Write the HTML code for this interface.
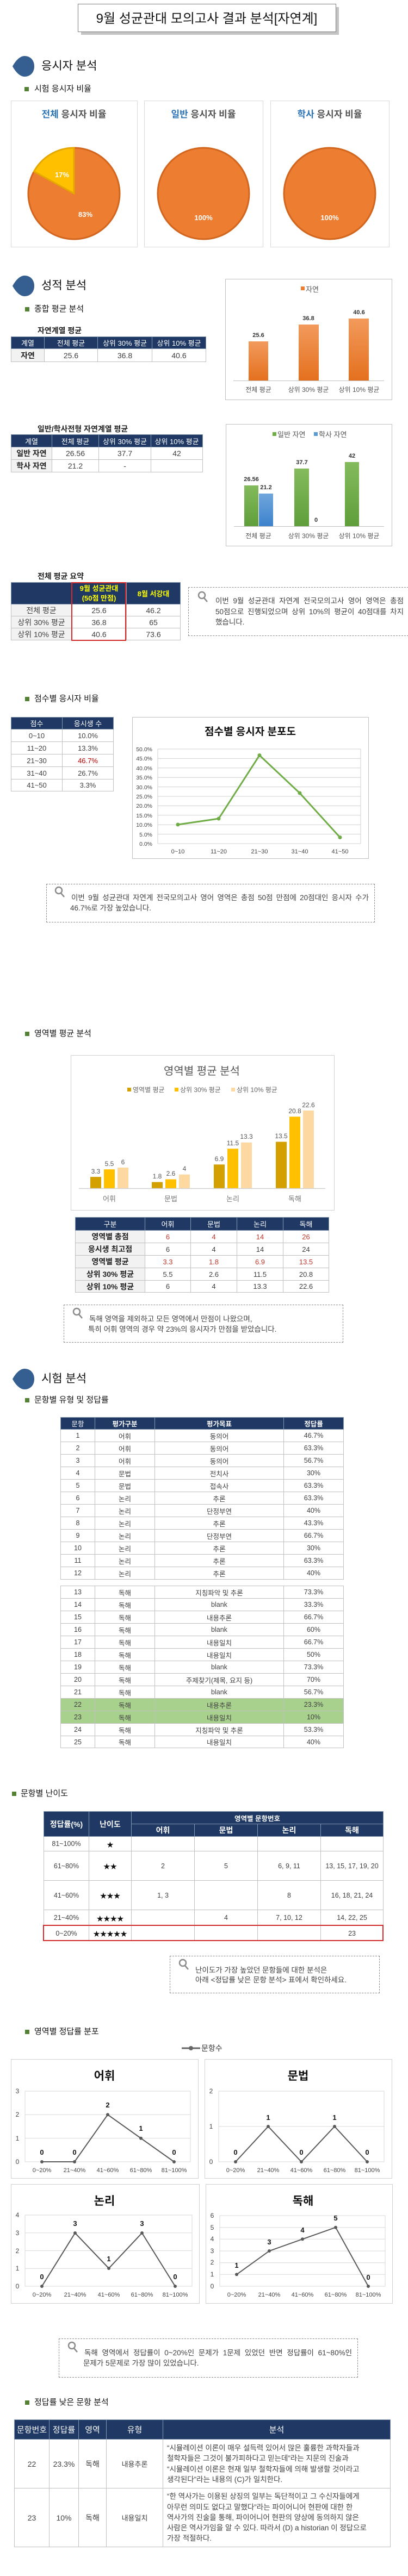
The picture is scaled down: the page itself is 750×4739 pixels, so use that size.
<!DOCTYPE html>
<html><head><meta charset="utf-8">
<style>
*{box-sizing:border-box}
body{margin:0;background:#fff;font-family:"Liberation Sans","Noto Sans CJK KR",sans-serif;color:#222}
#pg{position:relative;width:750px;height:4739px;overflow:hidden;background:#fff}
.a{position:absolute}
.h1{position:absolute;font-size:21px;line-height:30px;height:30px;color:#111;white-space:nowrap}
.h2{position:absolute;font-size:15px;line-height:20px;height:20px;color:#111;white-space:nowrap}
.sq{position:absolute;width:8px;height:8px;background:#548235}
.cap{position:absolute;font-size:14px;font-weight:bold;line-height:20px;color:#222;white-space:nowrap}
.t{position:absolute;border-collapse:collapse;table-layout:fixed;font-size:13px;color:#404040;text-align:center}
.t td,.t th{border:1px solid #c0c0c0;padding:0;overflow:hidden;white-space:nowrap}
.t th{background:#1f3864;color:#fff;font-weight:normal;border-color:#8497b0}
.g{background:#f2f2f2}
.b{font-weight:bold;color:#222}
.r{color:#c0392b}
.note{position:absolute;border:1.5px dashed #8a8a8a}
.nl{position:absolute;font-size:13.5px;line-height:19px;color:#404040;white-space:nowrap}
.j{text-align:justify;text-align-last:justify}
</style></head><body><div id="pg">

<svg class="a" style="left:0;top:0" width="750" height="4739" viewBox="0 0 750 4739" font-family="Liberation Sans, Noto Sans CJK KR, sans-serif">
<defs>
<linearGradient id="og" x1="0" y1="0" x2="0" y2="1"><stop offset="0" stop-color="#f29a5c"/><stop offset="1" stop-color="#e4701e"/></linearGradient>
<linearGradient id="gg" x1="0" y1="0" x2="0" y2="1"><stop offset="0" stop-color="#84bb5c"/><stop offset="1" stop-color="#5f9e3a"/></linearGradient>
<linearGradient id="bg" x1="0" y1="0" x2="0" y2="1"><stop offset="0" stop-color="#70a6dc"/><stop offset="1" stop-color="#3c82cc"/></linearGradient>
<g id="blob"><path d="M0,19 C6,8 14,0 22,0 C33,0 40,8 40,19 C40,30 33,38 22,38 C14,38 6,30 0,19 Z" fill="#355f91"/></g>
</defs>

<!-- title -->
<rect x="149" y="13" width="474" height="51" fill="#c4c4c4"/>
<rect x="143.5" y="7.5" width="474" height="51" fill="#fff" stroke="#7f7f7f"/>
<text x="380" y="42" font-size="24" text-anchor="middle" fill="#111">9월 성균관대 모의고사 결과 분석[자연계]</text>

<use href="#blob" x="23" y="103"/>
<use href="#blob" x="23" y="507"/>
<use href="#blob" x="23" y="2518"/>

<!-- pie boxes -->
<rect x="20.5" y="185.5" width="232" height="269" fill="#fff" stroke="#d9d9d9"/>
<rect x="265.5" y="185.5" width="218" height="269" fill="#fff" stroke="#d9d9d9"/>
<rect x="497.5" y="185.5" width="218" height="269" fill="#fff" stroke="#d9d9d9"/>
<g font-size="17" font-weight="bold" text-anchor="middle">
<text x="136" y="216"><tspan fill="#2e75b6">전체</tspan><tspan fill="#555"> 응시자 비율</tspan></text>
<text x="374" y="216"><tspan fill="#2e75b6">일반</tspan><tspan fill="#555"> 응시자 비율</tspan></text>
<text x="606" y="216"><tspan fill="#2e75b6">학사</tspan><tspan fill="#555"> 응시자 비율</tspan></text>
</g>
<g font-size="12" fill="#666">
<rect x="99" y="348" width="7" height="7" fill="#ed7d31"/><text x="108" y="355">일반</text>
<rect x="143" y="348" width="7" height="7" fill="#ffc000"/><text x="152" y="355">학사</text>
<rect x="358" y="348" width="7" height="7" fill="#ed7d31"/><text x="367" y="355">자연</text>
<rect x="590" y="348" width="7" height="7" fill="#ed7d31"/><text x="599" y="355">자연</text>
</g>
<path d="M136,356 L136,272 A84,84 0 1,1 62.4,315.5 Z" fill="#ed7d31" stroke="#d2661e" stroke-width="3"/>
<path d="M136,356 L136,272 A84,84 0 0,0 62.4,315.5 Z" fill="#ffc000" stroke="#e5a800" stroke-width="3"/>
<circle cx="374" cy="356" r="84" fill="#ed7d31" stroke="#d2661e" stroke-width="3"/>
<circle cx="606" cy="356" r="84" fill="#ed7d31" stroke="#d2661e" stroke-width="3"/>
<g font-size="13" font-weight="bold" fill="#fff" text-anchor="middle">
<text x="114" y="326">17%</text><text x="157" y="399">83%</text>
<text x="374" y="405">100%</text><text x="606" y="405">100%</text>
</g>

<!-- chart 1 -->
<rect x="414.5" y="513.5" width="306" height="222" fill="#fff" stroke="#bfbfbf"/>
<rect x="553" y="527" width="7" height="7" fill="#ed7d31"/><text x="562" y="537" font-size="13" fill="#555">자연</text>
<rect x="457" y="628" width="36" height="72" fill="url(#og)"/>
<rect x="549" y="597" width="37" height="103" fill="url(#og)"/>
<rect x="641" y="586" width="37" height="114" fill="url(#og)"/>
<line x1="429" y1="700.5" x2="706" y2="700.5" stroke="#bfbfbf"/>
<g font-size="11" font-weight="bold" fill="#333" text-anchor="middle">
<text x="475" y="620">25.6</text><text x="567" y="589">36.8</text><text x="660" y="578">40.6</text>
</g>
<g font-size="12" fill="#555" text-anchor="middle">
<text x="475" y="721">전체 평균</text><text x="567" y="721">상위 30% 평균</text><text x="660" y="721">상위 10% 평균</text>
</g>

<!-- chart 2 -->
<rect x="415.5" y="780.5" width="305" height="224" fill="#fff" stroke="#bfbfbf"/>
<g font-size="13" fill="#555">
<rect x="501" y="795" width="7" height="7" fill="#70ad47"/><text x="510" y="804">일반 자연</text>
<rect x="577" y="795" width="7" height="7" fill="#5b9bd5"/><text x="586" y="804">학사 자연</text>
</g>
<rect x="449" y="893" width="26" height="75" fill="url(#gg)"/>
<rect x="476" y="908" width="26" height="60" fill="url(#bg)"/>
<rect x="541" y="862" width="27" height="106" fill="url(#gg)"/>
<rect x="634" y="850" width="26" height="118" fill="url(#gg)"/>
<line x1="430" y1="968.5" x2="706" y2="968.5" stroke="#bfbfbf"/>
<g font-size="11" font-weight="bold" fill="#333" text-anchor="middle">
<text x="462" y="885">26.56</text><text x="489" y="900">21.2</text><text x="555" y="854">37.7</text><text x="581" y="960">0</text><text x="647" y="842">42</text>
</g>
<g font-size="12" fill="#555" text-anchor="middle">
<text x="475" y="990">전체 평균</text><text x="567" y="990">상위 30% 평균</text><text x="660" y="990">상위 10% 평균</text>
</g>

<!-- score distribution chart -->
<rect x="243.5" y="1319.5" width="434" height="260" fill="#fff" stroke="#bfbfbf"/>
<text x="460" y="1352" font-size="19" font-weight="bold" text-anchor="middle" fill="#111">점수별 응시자 분포도</text>
<g stroke="#d0d0d0">
<line x1="290" y1="1378" x2="663" y2="1378"/><line x1="290" y1="1395.4" x2="663" y2="1395.4"/><line x1="290" y1="1412.8" x2="663" y2="1412.8"/><line x1="290" y1="1430.2" x2="663" y2="1430.2"/><line x1="290" y1="1447.6" x2="663" y2="1447.6"/><line x1="290" y1="1465" x2="663" y2="1465"/><line x1="290" y1="1482.4" x2="663" y2="1482.4"/><line x1="290" y1="1499.8" x2="663" y2="1499.8"/><line x1="290" y1="1517.2" x2="663" y2="1517.2"/><line x1="290" y1="1534.6" x2="663" y2="1534.6"/><line x1="290" y1="1552" x2="663" y2="1552"/>
<line x1="290" y1="1378" x2="290" y2="1552"/><line x1="663" y1="1378" x2="663" y2="1552"/>
</g>
<g font-size="10.5" fill="#444" text-anchor="end">
<text x="280" y="1382">50.0%</text><text x="280" y="1399">45.0%</text><text x="280" y="1417">40.0%</text><text x="280" y="1434">35.0%</text><text x="280" y="1452">30.0%</text><text x="280" y="1469">25.0%</text><text x="280" y="1486">20.0%</text><text x="280" y="1504">15.0%</text><text x="280" y="1521">10.0%</text><text x="280" y="1539">5.0%</text><text x="280" y="1556">0.0%</text>
</g>
<polyline points="327,1517 402,1506 477,1389.5 551,1459 625,1540.5" fill="none" stroke="#70ad47" stroke-width="3"/>
<g fill="#70ad47"><circle cx="327" cy="1517" r="3.5"/><circle cx="402" cy="1506" r="3.5"/><circle cx="477" cy="1389.5" r="3.5"/><circle cx="551" cy="1459" r="3.5"/><circle cx="625" cy="1540.5" r="3.5"/></g>
<g font-size="11" fill="#444" text-anchor="middle">
<text x="327" y="1570">0~10</text><text x="402" y="1570">11~20</text><text x="477" y="1570">21~30</text><text x="551" y="1570">31~40</text><text x="625" y="1570">41~50</text>
</g>

<!-- area avg chart -->
<rect x="130.5" y="1941.5" width="484" height="285" fill="#fff" stroke="#d0d0d0"/>
<text x="371" y="1977" font-size="20" text-anchor="middle" fill="#555">영역별 평균 분석</text>
<g font-size="12" fill="#666">
<rect x="234" y="2001" width="7" height="7" fill="#d4a000"/><text x="244" y="2009">영역별 평균</text>
<rect x="321" y="2001" width="7" height="7" fill="#ffc000"/><text x="331" y="2009">상위 30% 평균</text>
<rect x="425" y="2001" width="7" height="7" fill="#fdd8a0"/><text x="435" y="2009">상위 10% 평균</text>
</g>
<g>
<rect x="166" y="2165.1" width="20" height="20.9" fill="#d4a000"/><rect x="191" y="2151.2" width="20" height="34.8" fill="#ffc000"/><rect x="216" y="2148" width="20" height="38" fill="#fdd8a0"/>
<rect x="279" y="2174.6" width="20" height="11.4" fill="#d4a000"/><rect x="304" y="2169.5" width="20" height="16.5" fill="#ffc000"/><rect x="329" y="2160.7" width="20" height="25.3" fill="#fdd8a0"/>
<rect x="393" y="2142.3" width="20" height="43.7" fill="#d4a000"/><rect x="418" y="2113.2" width="20" height="72.8" fill="#ffc000"/><rect x="443" y="2101.8" width="20" height="84.2" fill="#fdd8a0"/>
<rect x="507" y="2100.5" width="20" height="85.5" fill="#d4a000"/><rect x="532" y="2054.3" width="20" height="131.7" fill="#ffc000"/><rect x="557" y="2043" width="20" height="143" fill="#fdd8a0"/>
</g>
<line x1="145" y1="2186.5" x2="598" y2="2186.5" stroke="#d0d0d0" stroke-width="1.5"/>
<g font-size="12" fill="#555" text-anchor="middle">
<text x="176" y="2159">3.3</text><text x="201" y="2145">5.5</text><text x="226" y="2142">6</text>
<text x="289" y="2168">1.8</text><text x="314" y="2163">2.6</text><text x="339" y="2154">4</text>
<text x="403" y="2136">6.9</text><text x="428" y="2107">11.5</text><text x="453" y="2095">13.3</text>
<text x="517" y="2094">13.5</text><text x="542" y="2048">20.8</text><text x="567" y="2037">22.6</text>
</g>
<g font-size="13" fill="#777" text-anchor="middle">
<text x="201" y="2210">어휘</text><text x="314" y="2210">문법</text><text x="428" y="2210">논리</text><text x="542" y="2210">독해</text>
</g>

<!-- small charts legend -->
<line x1="334" y1="3768" x2="368" y2="3768" stroke="#666" stroke-width="3"/><circle cx="351" cy="3768" r="4" fill="#666"/>
<text x="370" y="3773" font-size="14" fill="#333">문항수</text>

<g stroke="#d0d0d0" fill="#fff">
<rect x="20.5" y="3788.5" width="344" height="219"/><rect x="376.5" y="3788.5" width="344" height="219"/>
<rect x="20.5" y="4018.5" width="346" height="219"/><rect x="378.5" y="4018.5" width="343" height="219"/>
</g>
<g font-size="21" font-weight="bold" text-anchor="middle" fill="#111">
<text x="192" y="3826">어휘</text><text x="548" y="3826">문법</text><text x="192" y="4056">논리</text><text x="557" y="4056">독해</text>
</g>
<g stroke="#d9d9d9" fill="none">
<rect x="46" y="3847" width="304" height="130"/><line x1="46" y1="3890.3" x2="350" y2="3890.3"/><line x1="46" y1="3933.7" x2="350" y2="3933.7"/>
<rect x="402" y="3847" width="304" height="130"/><line x1="402" y1="3912" x2="706" y2="3912"/>
<rect x="46" y="4075" width="307" height="131"/><line x1="46" y1="4107.75" x2="353" y2="4107.75"/><line x1="46" y1="4140.5" x2="353" y2="4140.5"/><line x1="46" y1="4173.25" x2="353" y2="4173.25"/>
<rect x="404" y="4076" width="304" height="130"/><line x1="404" y1="4097.7" x2="708" y2="4097.7"/><line x1="404" y1="4119.3" x2="708" y2="4119.3"/><line x1="404" y1="4141" x2="708" y2="4141"/><line x1="404" y1="4162.7" x2="708" y2="4162.7"/><line x1="404" y1="4184.3" x2="708" y2="4184.3"/>
</g>
<g font-size="12" fill="#444" text-anchor="middle">
<text x="32" y="3981">0</text><text x="32" y="3938">1</text><text x="32" y="3894">2</text><text x="32" y="3851">3</text>
<text x="388" y="3981">0</text><text x="388" y="3916">1</text><text x="388" y="3851">2</text>
<text x="32" y="4210">0</text><text x="32" y="4177">1</text><text x="32" y="4145">2</text><text x="32" y="4112">3</text><text x="32" y="4079">4</text>
<text x="390" y="4210">0</text><text x="390" y="4188">1</text><text x="390" y="4166">2</text><text x="390" y="4145">3</text><text x="390" y="4123">4</text><text x="390" y="4102">5</text><text x="390" y="4080">6</text>
</g>
<g font-size="11" fill="#444" text-anchor="middle">
<text x="77" y="3996">0~20%</text><text x="137" y="3996">21~40%</text><text x="198" y="3996">41~60%</text><text x="259" y="3996">61~80%</text><text x="320" y="3996">81~100%</text>
<text x="433" y="3996">0~20%</text><text x="493" y="3996">21~40%</text><text x="554" y="3996">41~60%</text><text x="615" y="3996">61~80%</text><text x="675" y="3996">81~100%</text>
<text x="77" y="4225">0~20%</text><text x="138" y="4225">21~40%</text><text x="200" y="4225">41~60%</text><text x="261" y="4225">61~80%</text><text x="322" y="4225">81~100%</text>
<text x="435" y="4225">0~20%</text><text x="495" y="4225">21~40%</text><text x="556" y="4225">41~60%</text><text x="617" y="4225">61~80%</text><text x="677" y="4225">81~100%</text>
</g>
<g fill="none" stroke="#595959" stroke-width="2">
<polyline points="77,3977 137,3977 198,3890.3 259,3933.7 320,3977"/>
<polyline points="433,3977 493,3912 554,3977 615,3912 675,3977"/>
<polyline points="77,4206 138,4108 200,4173 261,4108 322,4206"/>
<polyline points="435,4184.3 495,4141 556,4119.3 617,4097.7 677,4206"/>
</g>
<g fill="#595959">
<circle cx="77" cy="3977" r="3"/><circle cx="137" cy="3977" r="3"/><circle cx="198" cy="3890.3" r="3"/><circle cx="259" cy="3933.7" r="3"/><circle cx="320" cy="3977" r="3"/>
<circle cx="433" cy="3977" r="3"/><circle cx="493" cy="3912" r="3"/><circle cx="554" cy="3977" r="3"/><circle cx="615" cy="3912" r="3"/><circle cx="675" cy="3977" r="3"/>
<circle cx="77" cy="4206" r="3"/><circle cx="138" cy="4108" r="3"/><circle cx="200" cy="4173" r="3"/><circle cx="261" cy="4108" r="3"/><circle cx="322" cy="4206" r="3"/>
<circle cx="435" cy="4184.3" r="3"/><circle cx="495" cy="4141" r="3"/><circle cx="556" cy="4119.3" r="3"/><circle cx="617" cy="4097.7" r="3"/><circle cx="677" cy="4206" r="3"/>
</g>
<g font-size="13" font-weight="bold" fill="#111" text-anchor="middle">
<text x="77" y="3964">0</text><text x="137" y="3964">0</text><text x="198" y="3877">2</text><text x="259" y="3920">1</text><text x="320" y="3964">0</text>
<text x="433" y="3964">0</text><text x="493" y="3900">1</text><text x="554" y="3964">0</text><text x="615" y="3900">1</text><text x="675" y="3964">0</text>
<text x="77" y="4193">0</text><text x="138" y="4095">3</text><text x="200" y="4160">1</text><text x="261" y="4095">3</text><text x="322" y="4193">0</text>
<text x="435" y="4172">1</text><text x="495" y="4129">3</text><text x="556" y="4107">4</text><text x="617" y="4085">5</text><text x="677" y="4194">0</text>
</g>

<!-- magnifiers -->
<g fill="none" stroke="#8a8a8a" stroke-width="2.5">
<circle cx="371" cy="1095" r="6"/><line x1="375" y1="1100" x2="381" y2="1107"/>
<circle cx="108" cy="1638" r="6"/><line x1="112" y1="1643" x2="118" y2="1650"/>
<circle cx="141" cy="2413" r="6"/><line x1="145" y1="2418" x2="151" y2="2425"/>
<circle cx="336" cy="3611" r="6"/><line x1="340" y1="3616" x2="346" y2="3623"/>
<circle cx="132" cy="4315" r="6"/><line x1="136" y1="4320" x2="142" y2="4327"/>
</g>
</svg>

<!-- headers -->
<div class="h1" style="left:76px;top:107px">응시자 분석</div>
<div class="sq" style="left:45px;top:160px"></div><div class="h2" style="left:63px;top:154px">시험 응시자 비율</div>

<div class="h1" style="left:76px;top:511px">성적 분석</div>
<div class="sq" style="left:46px;top:565px"></div><div class="h2" style="left:63px;top:559px">종합 평균 분석</div>

<div class="cap" style="left:69px;top:598px">자연계열 평균</div>
<table class="t" style="left:20px;top:619px;width:358px">
<colgroup><col style="width:61px"><col style="width:98px"><col style="width:100px"><col style="width:99px"></colgroup>
<tr style="height:22px"><th>계열</th><th>전체 평균</th><th>상위 30% 평균</th><th>상위 10% 평균</th></tr>
<tr style="height:24px;font-size:14px"><td class="g b">자연</td><td>25.6</td><td>36.8</td><td>40.6</td></tr>
</table>

<div class="cap" style="left:69px;top:779px">일반/학사전형 자연계열 평균</div>
<table class="t" style="left:20px;top:799px;width:352px">
<colgroup><col style="width:75px"><col style="width:86px"><col style="width:96px"><col style="width:95px"></colgroup>
<tr style="height:23px"><th>계열</th><th>전체 평균</th><th>상위 30% 평균</th><th>상위 10% 평균</th></tr>
<tr style="height:23px;font-size:14px"><td class="g b">일반 자연</td><td>26.56</td><td>37.7</td><td>42</td></tr>
<tr style="height:23px;font-size:14px"><td class="g b">학사 자연</td><td>21.2</td><td>-</td><td></td></tr>
</table>

<div class="cap" style="left:69px;top:1050px">전체 평균 요약</div>
<table class="t" style="left:20px;top:1071px;width:311px">
<colgroup><col style="width:111px"><col style="width:101px"><col style="width:99px"></colgroup>
<tr style="height:40px"><th></th><th style="color:#ffff00;font-weight:bold;line-height:18px">9월 성균관대<br>(50점 만점)</th><th style="color:#ffff00;font-weight:bold">8월 서강대</th></tr>
<tr style="height:22px;font-size:14px"><td class="g">전체 평균</td><td>25.6</td><td>46.2</td></tr>
<tr style="height:22px;font-size:14px"><td class="g">상위 30% 평균</td><td>36.8</td><td>65</td></tr>
<tr style="height:22px;font-size:14px"><td class="g">상위 10% 평균</td><td>40.6</td><td>73.6</td></tr>
</table>
<div class="a" style="left:131px;top:1071px;width:101px;height:108px;border:2px solid #d42a2a"></div>

<div class="note" style="left:346px;top:1080px;width:410px;height:90px"></div>
<div class="nl j" style="left:396px;top:1096px;width:346px">이번 9월 성균관대 자연계 전국모의고사 영어 영역은 총점</div>
<div class="nl j" style="left:396px;top:1116px;width:346px">50점으로 진행되었으며 상위 10%의 평균이 40점대를 차지</div>
<div class="nl" style="left:396px;top:1135px">했습니다.</div>

<div class="sq" style="left:46px;top:1282px"></div><div class="h2" style="left:63px;top:1276px">점수별 응시자 비율</div>
<table class="t" style="left:20px;top:1319px;width:188px">
<colgroup><col style="width:94px"><col style="width:94px"></colgroup>
<tr style="height:22px"><th>점수</th><th>응시생 수</th></tr>
<tr style="height:23px"><td>0~10</td><td>10.0%</td></tr>
<tr style="height:23px"><td>11~20</td><td>13.3%</td></tr>
<tr style="height:23px"><td>21~30</td><td style="color:#c00000">46.7%</td></tr>
<tr style="height:23px"><td>31~40</td><td>26.7%</td></tr>
<tr style="height:22px"><td>41~50</td><td>3.3%</td></tr>
</table>

<div class="note" style="left:85px;top:1626px;width:604px;height:71px"></div>
<div class="nl j" style="left:131px;top:1642px;width:547px">이번 9월 성균관대 자연계 전국모의고사 영어 영역은 총점 50점 만점에 20점대인 응시자 수가</div>
<div class="nl" style="left:129px;top:1661px">46.7%로 가장 높았습니다.</div>

<div class="sq" style="left:46px;top:1898px"></div><div class="h2" style="left:63px;top:1892px">영역별 평균 분석</div>
<table class="t" style="left:138px;top:2239px;width:466px;font-size:13px">
<colgroup><col style="width:128px"><col style="width:84px"><col style="width:85px"><col style="width:85px"><col style="width:84px"></colgroup>
<tr style="height:24px"><th>구분</th><th>어휘</th><th>문법</th><th>논리</th><th>독해</th></tr>
<tr style="height:23px"><td class="g b" style="font-size:14px">영역별 총점</td><td class="r">6</td><td class="r">4</td><td class="r">14</td><td class="r">26</td></tr>
<tr style="height:23px"><td class="g b" style="font-size:14px">응시생 최고점</td><td>6</td><td>4</td><td>14</td><td>24</td></tr>
<tr style="height:23px"><td class="g b" style="font-size:14px">영역별 평균</td><td class="r">3.3</td><td class="r">1.8</td><td class="r">6.9</td><td class="r">13.5</td></tr>
<tr style="height:23px"><td class="g b" style="font-size:14px">상위 30% 평균</td><td>5.5</td><td>2.6</td><td>11.5</td><td>20.8</td></tr>
<tr style="height:22px"><td class="g b" style="font-size:14px">상위 10% 평균</td><td>6</td><td>4</td><td>13.3</td><td>22.6</td></tr>
</table>

<div class="note" style="left:117px;top:2400px;width:514px;height:70px"></div>
<div class="nl" style="left:164px;top:2417px">독해 영역을 제외하고 모든 영역에서 만점이 나왔으며,</div>
<div class="nl" style="left:162px;top:2436px">특히 어휘 영역의 경우 약 23%의 응시자가 만점을 받았습니다.</div>

<div class="h1" style="left:76px;top:2522px">시험 분석</div>
<div class="sq" style="left:46px;top:2572px"></div><div class="h2" style="left:63px;top:2566px">문항별 유형 및 정답률</div>

<table class="t" style="left:111px;top:2607px;width:520px;font-size:12.5px">
<colgroup><col style="width:63px"><col style="width:110px"><col style="width:237px"><col style="width:110px"></colgroup>
<tr style="height:22px"><th class="b" style="color:#fff">문항</th><th style="font-weight:bold">평가구분</th><th style="font-weight:bold">평가목표</th><th style="font-weight:bold">정답률</th></tr>
<tr style="height:23px"><td>1</td><td>어휘</td><td>동의어</td><td>46.7%</td></tr>
<tr style="height:23px"><td>2</td><td>어휘</td><td>동의어</td><td>63.3%</td></tr>
<tr style="height:23px"><td>3</td><td>어휘</td><td>동의어</td><td>56.7%</td></tr>
<tr style="height:23px"><td>4</td><td>문법</td><td>전치사</td><td>30%</td></tr>
<tr style="height:23px"><td>5</td><td>문법</td><td>접속사</td><td>63.3%</td></tr>
<tr style="height:23px"><td>6</td><td>논리</td><td>추론</td><td>63.3%</td></tr>
<tr style="height:23px"><td>7</td><td>논리</td><td>단정부연</td><td>40%</td></tr>
<tr style="height:23px"><td>8</td><td>논리</td><td>추론</td><td>43.3%</td></tr>
<tr style="height:23px"><td>9</td><td>논리</td><td>단정부연</td><td>66.7%</td></tr>
<tr style="height:23px"><td>10</td><td>논리</td><td>추론</td><td>30%</td></tr>
<tr style="height:23px"><td>11</td><td>논리</td><td>추론</td><td>63.3%</td></tr>
<tr style="height:23px"><td>12</td><td>논리</td><td>추론</td><td>40%</td></tr>
</table>
<table class="t" style="left:111px;top:2917px;width:520px;font-size:12.5px">
<colgroup><col style="width:63px"><col style="width:110px"><col style="width:237px"><col style="width:110px"></colgroup>
<tr style="height:23px"><td>13</td><td>독해</td><td>지칭파악 및 추론</td><td>73.3%</td></tr>
<tr style="height:23px"><td>14</td><td>독해</td><td>blank</td><td>33.3%</td></tr>
<tr style="height:23px"><td>15</td><td>독해</td><td>내용추론</td><td>66.7%</td></tr>
<tr style="height:23px"><td>16</td><td>독해</td><td>blank</td><td>60%</td></tr>
<tr style="height:23px"><td>17</td><td>독해</td><td>내용일치</td><td>66.7%</td></tr>
<tr style="height:23px"><td>18</td><td>독해</td><td>내용일치</td><td>50%</td></tr>
<tr style="height:23px"><td>19</td><td>독해</td><td>blank</td><td>73.3%</td></tr>
<tr style="height:23px"><td>20</td><td>독해</td><td>주제찾기(제목, 요지 등)</td><td>70%</td></tr>
<tr style="height:23px"><td>21</td><td>독해</td><td>blank</td><td>56.7%</td></tr>
<tr style="height:23px;background:#a9d18e"><td>22</td><td>독해</td><td>내용추론</td><td>23.3%</td></tr>
<tr style="height:23px;background:#a9d18e"><td>23</td><td>독해</td><td>내용일치</td><td>10%</td></tr>
<tr style="height:23px"><td>24</td><td>독해</td><td>지칭파악 및 추론</td><td>53.3%</td></tr>
<tr style="height:22px"><td>25</td><td>독해</td><td>내용일치</td><td>40%</td></tr>
</table>

<div class="sq" style="left:22px;top:3296px"></div><div class="h2" style="left:38px;top:3290px">문항별 난이도</div>
<table class="t" style="left:80px;top:3332px;width:624px;font-size:12.5px">
<colgroup><col style="width:83px"><col style="width:78px"><col style="width:116px"><col style="width:116px"><col style="width:116px"><col style="width:115px"></colgroup>
<tr style="height:23px"><th rowspan="2" style="font-weight:bold;font-size:14px">정답률(%)</th><th rowspan="2" style="font-weight:bold;font-size:14px">난이도</th><th colspan="4" style="font-weight:bold">영역별 문항번호</th></tr>
<tr style="height:23px"><th style="font-weight:bold;font-size:14px">어휘</th><th style="font-weight:bold;font-size:14px">문법</th><th style="font-weight:bold;font-size:14px">논리</th><th style="font-weight:bold;font-size:14px">독해</th></tr>
<tr style="height:27px"><td>81~100%</td><td style="color:#111">★</td><td></td><td></td><td></td><td></td></tr>
<tr style="height:54px"><td>61~80%</td><td style="color:#111">★★</td><td>2</td><td>5</td><td>6, 9, 11</td><td>13, 15, 17, 19, 20</td></tr>
<tr style="height:54px"><td>41~60%</td><td style="color:#111">★★★</td><td>1, 3</td><td></td><td>8</td><td>16, 18, 21, 24</td></tr>
<tr style="height:29px"><td>21~40%</td><td style="color:#111">★★★★</td><td></td><td>4</td><td>7, 10, 12</td><td>14, 22, 25</td></tr>
<tr style="height:28px"><td>0~20%</td><td style="color:#111">★★★★★</td><td></td><td></td><td></td><td>23</td></tr>
</table>
<div class="a" style="left:79px;top:3541px;width:626px;height:30px;border:2px solid #d42a2a"></div>

<div class="note" style="left:312px;top:3598px;width:386px;height:69px"></div>
<div class="nl" style="left:359px;top:3615px">난이도가 가장 높았던 문항들에 대한 분석은</div>
<div class="nl" style="left:359px;top:3633px">아래 &lt;정답률 낮은 문항 분석&gt; 표에서 확인하세요.</div>

<div class="sq" style="left:46px;top:3734px"></div><div class="h2" style="left:63px;top:3728px">영역별 정답률 분포</div>

<div class="note" style="left:108px;top:4302px;width:550px;height:72px"></div>
<div class="nl j" style="left:155px;top:4319px;width:492px">독해 영역에서 정답률이 0~20%인 문제가 1문제 있었던 반면 정답률이 61~80%인</div>
<div class="nl" style="left:153px;top:4338px">문제가 5문제로 가장 많이 있었습니다.</div>

<div class="sq" style="left:46px;top:4416px"></div><div class="h2" style="left:63px;top:4410px">정답률 낮은 문항 분석</div>
<table class="t" style="left:26px;top:4451px;width:691px;font-size:14px">
<colgroup><col style="width:64px"><col style="width:54px"><col style="width:51px"><col style="width:104px"><col style="width:418px"></colgroup>
<tr style="height:36px"><th style="font-size:15px">문항번호</th><th style="font-size:15px">정답률</th><th style="font-size:15px">영역</th><th style="font-size:15px">유형</th><th style="font-size:15px">분석</th></tr>
<tr style="height:90px"><td>22</td><td>23.3%</td><td>독해</td><td style="font-size:13px">내용추론</td><td style="text-align:left;padding-left:7px;line-height:19.3px;font-size:13.5px">“시뮬레이션 이론이 매우 설득력 있어서 많은 훌륭한 과학자들과<br>철학자들은 그것이 불가피하다고 믿는데”라는 지문의 진술과<br>“시뮬레이션 이론은 현재 일부 철학자들에 의해 발생할 것이라고<br>생각된다”라는 내용의 (C)가 일치한다.</td></tr>
<tr style="height:108px"><td>23</td><td>10%</td><td>독해</td><td style="font-size:13px">내용일치</td><td style="text-align:left;padding-left:7px;line-height:19.3px;font-size:13.5px">“한 역사가는 이용된 상징의 일부는 독단적이고 그 수신자들에게<br>아무런 의미도 없다고 말했다”라는 파이어니어 현판에 대한 한<br>역사가의 진술을 통해, 파이어니어 현판의 양상에 동의하지 않은<br>사람은 역사가임을 알 수 있다. 따라서 (D) a historian 이 정답으로<br>가장 적절하다.</td></tr>
</table>

</div></body></html>
